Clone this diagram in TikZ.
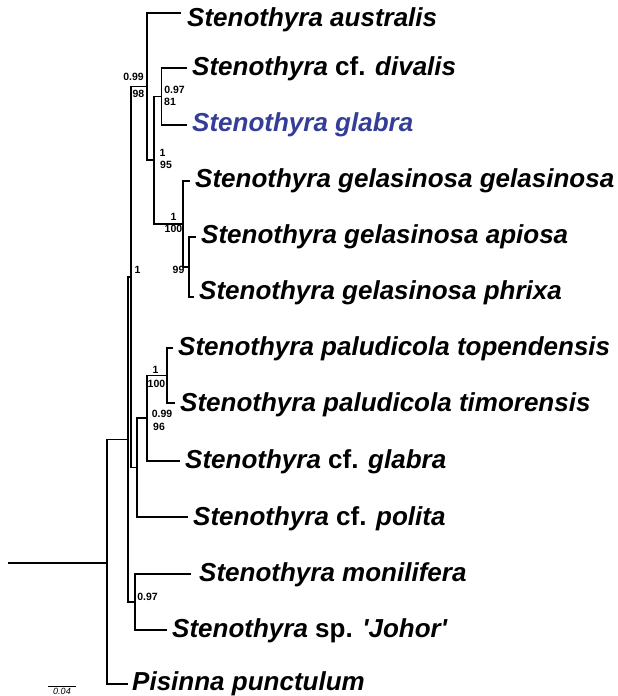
\documentclass[tikz,border=0pt]{standalone}
\usepackage{fontspec}
\setmainfont{Liberation Sans}
\definecolor{taxblue}{RGB}{52,62,150}
\begin{document}
\begin{tikzpicture}[x=1pt,y=-1pt,
  br/.style={line width=1.4pt},
  taxon/.style={anchor=base west, inner sep=0pt, font=\fontsize{26}{30}\selectfont\bfseries\itshape},
  supval/.style={inner sep=0pt, font=\fontsize{10.5}{12}\selectfont\bfseries},
  scalebar/.style={line width=0.6pt}]
\useasboundingbox (0,0) rectangle (618,696);
% internal nodes
\coordinate (stem) at (8,563);
\coordinate (root) at (107,563);
\coordinate (Q) at (128,439.5);
\coordinate (R) at (131,277);
\coordinate (N1) at (147,86.5);
\coordinate (N2) at (154,160);
\coordinate (N3) at (161.5,96.5);
\coordinate (N4) at (183,224);
\coordinate (N5) at (189,267);
\coordinate (P) at (137,467.5);
\coordinate (S) at (147,418);
\coordinate (T) at (167,375.5);
\coordinate (M) at (135,602);
% tips
\coordinate (t1) at (181,13);
\coordinate (t2) at (187,68);
\coordinate (t3) at (187,125);
\coordinate (t4) at (190,181);
\coordinate (t5) at (196,237);
\coordinate (t6) at (194,297);
\coordinate (t7) at (173,348);
\coordinate (t8) at (175,403);
\coordinate (t9) at (180,461);
\coordinate (t10) at (188,517);
\coordinate (t11) at (191,574);
\coordinate (t12) at (167,630);
\coordinate (t13) at (128,684);
% branches
\draw[br] (stem) -- (root);
\draw[br] (root) |- (Q);
\draw[br] (root) |- (t13);
\draw[br] (Q) |- (R);
\draw[br] (Q) |- (M);
\draw[br] (R) |- (N1);
\draw[br] (R) |- (P);
\draw[br] (N1) |- (t1);
\draw[br] (N1) |- (N2);
\draw[br] (N2) |- (N3);
\draw[br] (N2) |- (N4);
\draw[br] (N3) |- (t2);
\draw[br] (N3) |- (t3);
\draw[br] (N4) |- (t4);
\draw[br] (N4) |- (N5);
\draw[br] (N5) |- (t5);
\draw[br] (N5) |- (t6);
\draw[br] (P) |- (S);
\draw[br] (P) |- (t10);
\draw[br] (S) |- (T);
\draw[br] (S) |- (t9);
\draw[br] (T) |- (t7);
\draw[br] (T) |- (t8);
\draw[br] (M) |- (t11);
\draw[br] (M) |- (t12);
% taxa
\node[taxon] (l1) at (187,26.3) {Stenothyra australis};
\node[taxon] (l2) at (192,75.3) {Stenothyra {\upshape cf.} divalis};
\node[taxon, text=taxblue] (l3) at (192,131.3) {Stenothyra glabra};
\node[taxon] (l4) at (195,187.3) {Stenothyra gelasinosa gelasinosa};
\node[taxon] (l5) at (201,243.3) {Stenothyra gelasinosa apiosa};
\node[taxon] (l6) at (199,299.3) {Stenothyra gelasinosa phrixa};
\node[taxon] (l7) at (178,355.3) {Stenothyra paludicola topendensis};
\node[taxon] (l8) at (180,411.3) {Stenothyra paludicola timorensis};
\node[taxon] (l9) at (185,468.3) {Stenothyra {\upshape cf.} glabra};
\node[taxon] (l10) at (193,525.3) {Stenothyra {\upshape cf.} polita};
\node[taxon] (l11) at (199,581.3) {Stenothyra monilifera};
\node[taxon] (l12) at (172,637.3) {Stenothyra {\upshape sp.} \textquotesingle Johor\textquotesingle};
\node[taxon] (l13) at (132,690) {Pisinna punctulum};
% support values
\node[supval] (s1a) at (133.5,77) {0.99};
\node[supval] (s1b) at (138.5,93.5) {98};
\node[supval] (s3a) at (174.5,90) {0.97};
\node[supval] (s3b) at (170,102) {81};
\node[supval] (s2a) at (162.5,153) {1};
\node[supval] (s2b) at (166,165) {95};
\node[supval] (s4a) at (173.5,217) {1};
\node[supval] (s4b) at (173.5,229) {100};
\node[supval] (s5) at (178.5,270) {99};
\node[supval] (sR) at (137.5,270) {1};
\node[supval] (sTa) at (155.5,370) {1};
\node[supval] (sTb) at (156.5,384) {100};
\node[supval] (sSa) at (162,414) {0.99};
\node[supval] (sSb) at (159,427) {96};
\node[supval] (sM) at (147.5,597) {0.97};
% scale bar
\coordinate (sb1) at (48,686);
\coordinate (sb2) at (76,686);
\draw[scalebar] (sb1) -- (sb2);
\node[inner sep=0pt, font=\fontsize{9}{10}\selectfont\itshape] (sbl) at (62,691.5) {0.04};
\end{tikzpicture}
\end{document}
